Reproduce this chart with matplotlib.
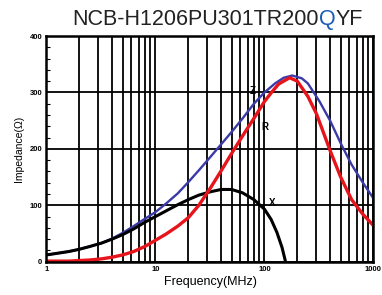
import matplotlib
matplotlib.use("Agg")
import matplotlib.pyplot as plt
from matplotlib.ticker import MultipleLocator, FixedLocator, NullFormatter

plt.rcParams['font.family'] = ['Liberation Sans', 'DejaVu Sans']

# values (frequency in MHz, impedance in ohm)
freq_z = [1, 1.6, 2, 2.5, 3.2, 4, 5, 6.3, 8, 10, 12.5, 16, 20, 25, 32, 40, 50, 63, 80, 100,
          125, 150, 180, 220, 250, 320, 400, 500, 630, 800, 1000]
z_vals = [12, 18, 22, 27, 33, 41, 51, 63, 76, 88, 103, 121, 141, 162, 186, 208, 230, 254, 280, 300,
          316, 326, 330, 325, 316, 284, 250, 210, 172, 140, 112]

freq_r = [1, 1.6, 2, 2.5, 3.2, 4, 5, 6.3, 8, 10, 12.5, 16, 20, 25, 32, 40, 50, 63, 80, 100,
          116, 135, 170, 200, 250, 300, 400, 500, 630, 800, 1000]
r_vals = [1, 1, 2, 3, 5, 8, 12, 18, 27, 38, 49, 63, 78, 100, 131, 161, 192, 223, 254, 284,
          300, 315, 326, 320, 293, 262, 197, 150, 110, 84, 64]

freq_x = [1, 1.6, 2, 2.5, 3.2, 4, 5, 6.3, 8, 10, 12.5, 16, 20, 25, 32, 40, 50, 63, 80, 100,
          115, 130, 145, 156]
x_vals = [12, 18, 22, 27, 33, 40, 48, 58, 70, 80, 90, 101, 110, 118, 124, 128, 128, 122, 110, 93,
          75, 52, 25, 0]

title_parts = [("NCB-H1206PU301TR200", "#222222"), ("Q", "#1a5bb5"), ("YF", "#222222")]

fig = plt.figure(figsize=(3.82, 2.95), dpi=100)
ax = fig.add_axes([0.1217, 0.1129, 0.856, 0.765])

# Z under X at low frequency, as in the original
ax.plot(freq_z, z_vals, color='#3a3aa8', lw=1.7, zorder=2)
ax.plot(freq_x, x_vals, color='black', lw=2.2, zorder=3)
ax.plot(freq_r, r_vals, color='#e8141c', lw=2.4, zorder=4)

ax.set_xscale('log')
ax.set_xlim(1, 1000)
ax.set_ylim(0, 400)

ax.set_yticks([0, 100, 200, 300, 400])
ax.yaxis.set_minor_locator(MultipleLocator(20))
ax.xaxis.set_major_locator(FixedLocator([1, 10, 100, 1000]))
ax.xaxis.set_minor_locator(FixedLocator([m * d for d in (1, 10, 100) for m in range(2, 10)]))
ax.xaxis.set_minor_formatter(NullFormatter())
ax.set_xticklabels(['1', '10', '100', '1000'])

ax.grid(True, which='major', color='black', lw=1.3)
ax.grid(True, which='minor', axis='x', color='black', lw=1.3)
ax.tick_params(axis='both', which='major', labelsize=5.5, length=0, pad=3)
ax.tick_params(axis='y', which='minor', direction='in', length=3, width=0.8, left=True)
ax.tick_params(axis='x', which='minor', length=0)
for lab in ax.get_xticklabels() + ax.get_yticklabels():
    lab.set_fontweight('bold')
for sp in ax.spines.values():
    sp.set_linewidth(1.8)
    sp.set_zorder(5)

ax.set_xlabel('Frequency(MHz)', fontsize=9, labelpad=2)
ax.set_ylabel('Impedance(Ω)', fontsize=7.5, labelpad=4)

ax.text(78, 302, 'Z', fontsize=7, fontweight='bold', ha='center', va='center')
ax.text(100, 238, 'R', fontsize=7, fontweight='bold', ha='center', va='center')
ax.text(118, 104, 'X', fontsize=7, fontweight='bold', ha='center', va='center')

# title with a blue Q, placed piece by piece
fig.canvas.draw()
renderer = fig.canvas.get_renderer()
x0 = 72 / 382
for txt, col in title_parts:
    t = fig.text(x0, 0.915, txt, fontsize=15.5, color=col, va='baseline', ha='left')
    bb = t.get_window_extent(renderer=renderer)
    x0 = bb.x1 / fig.bbox.width

fig.savefig('out.png', dpi=100)
